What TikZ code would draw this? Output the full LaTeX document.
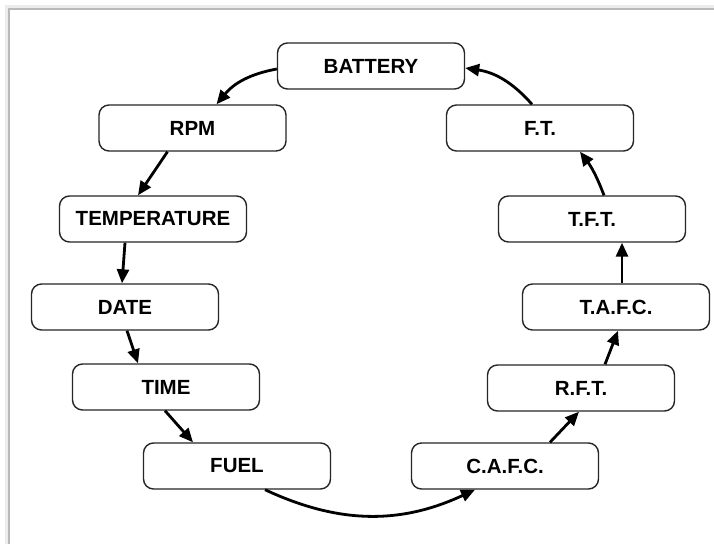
\documentclass[tikz,border=0pt]{standalone}
\usepackage{fontspec}
\setmainfont{Liberation Sans}
\usepackage{tikz}
\usetikzlibrary{arrows.meta, positioning, calc}

\begin{document}
\begin{tikzpicture}[
    x=1pt, y=1pt,
    font=\fontsize{20.5}{24}\selectfont\bfseries,
    kotak/.style={draw=black!85, line width=1.4pt, rounded corners=10pt, fill=white,
                  minimum width=187pt, minimum height=46pt, inner sep=0pt, align=center},
    panah/.style={line width=2.8pt, -{Triangle[length=14pt, width=12pt]}},
    bingkai/.style={line width=1.6pt, gray!55}
  ]
    \useasboundingbox[fill=white] (0,0) rectangle (714,-544);
    % bingkai halaman
    \draw[line width=5pt, gray!15] (7,-544) -- (7,-7) -- (714,-7);
    \draw[bingkai] (9,-544) -- (9,-9) -- (714,-9);
    % kotak
    \node[kotak] (bat)  at (371,-66)   {BATTERY};
    \node[kotak] (rpm)  at (192.5,-128) {RPM};
    \node[kotak] (temp) at (153,-219)  {TEMPERATURE};
    \node[kotak] (date) at (125,-307)  {DATE};
    \node[kotak] (time) at (166,-387)  {TIME};
    \node[kotak] (fuel) at (237,-466)  {FUEL};
    \node[kotak] (cafc) at (505,-466)  {C.A.F.C.};
    \node[kotak] (rft)  at (581,-388)  {R.F.T.};
    \node[kotak] (tafc) at (616,-307)  {T.A.F.C.};
    \node[kotak] (tft)  at (592,-219)  {T.F.T.};
    \node[kotak] (ft)   at (540,-128)  {F.T.};
    % panah lurus
    \foreach \a/\da/\b/\db in {rpm/-25/temp/-15, temp/-28/date/-3, date/2/time/-28, time/-1/fuel/-44} {
      \draw[panah] ([xshift=\da pt]\a.south) -- ([xshift=\db pt]\b.north);
    }
    \foreach \a/\da/\b/\db in {cafc/45/rft/-2, rft/24/tafc/2, tafc/6/tft/30} {
      \draw[panah] ([xshift=\da pt]\a.north) -- ([xshift=\db pt]\b.south);
    }
    % panah lengkung
    \draw[panah] ([yshift=-3pt]bat.west) to[bend right=20] ([xshift=24pt]rpm.north);
    \draw[panah] ([xshift=28pt]fuel.south) to[bend right=25] ([xshift=-30pt]cafc.south);
    \draw[panah] ([xshift=12pt]tft.north) to[bend right=8] ([xshift=40pt]ft.south);
    \draw[panah] ([xshift=-8pt]ft.north) to[bend right=20] ([yshift=-2pt]bat.east);
  \end{tikzpicture}
\end{document}
